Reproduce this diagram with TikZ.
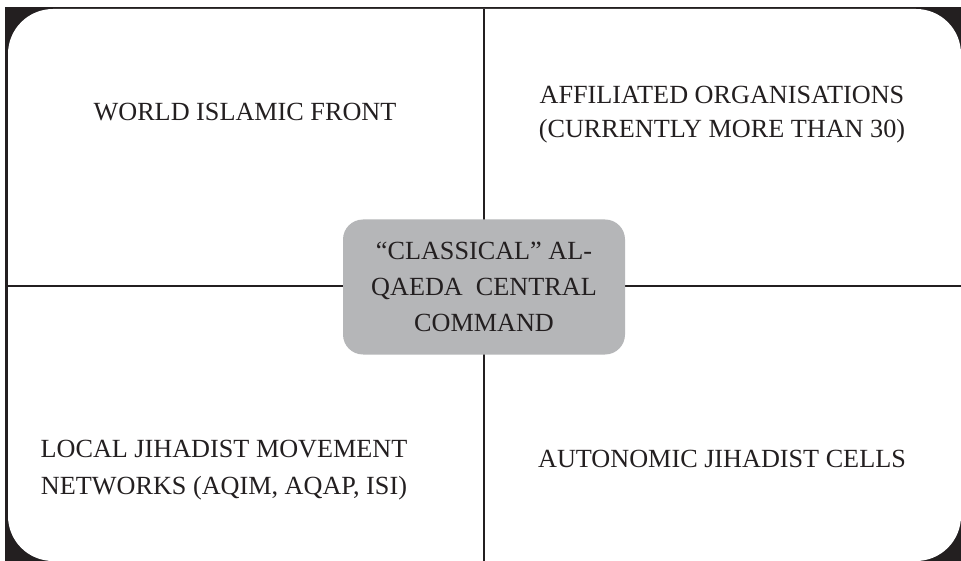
\documentclass[tikz,border=0pt]{standalone}
\usepackage{fontspec}
\setmainfont{Liberation Serif}
\definecolor{ink}{HTML}{231F20}
\definecolor{boxgray}{HTML}{B5B6B8}
\tikzset{
  label/.style={align=center, text=ink, inner sep=0pt, font=\fontsize{26.2}{34}\selectfont},
  widelabel/.style={label, font=\fontsize{26.2}{37}\selectfont},
  divider/.style={draw=ink, line width=2.3pt},
  central/.style={fill=boxgray, rounded corners=20pt, minimum width=282pt, minimum height=135pt, inner sep=0pt, align=center, text=ink, font=\fontsize{26.2}{36}\selectfont}
}
\begin{document}
\begin{tikzpicture}[x=1pt,y=-1pt]
\useasboundingbox (0,0) rectangle (961,561);
\fill[ink] (5,7) rectangle (961,561);
\fill[white, rounded corners=45pt] (8,9) rectangle (961,561);
\coordinate (top) at (484,9);
\coordinate (bottom) at (484,561);
\coordinate (left) at (8,286);
\coordinate (right) at (961,286);
\draw[divider] (top) -- (bottom);
\draw[divider] (left) -- (right);
\node[central] (core) at (484,287) {“CLASSICAL” AL-\\QAEDA\ \ CENTRAL\\COMMAND};
\node[label] (wif) at (245,112) {WORLD ISLAMIC FRONT};
\node[label] (aff) at (722,115) {AFFILIATED ORGANISATIONS\\(CURRENTLY MORE THAN 30)};
\node[widelabel] (loc) at (224,470) {LOCAL JIHADIST MOVEMENT\\NETWORKS (AQIM, AQAP, ISI)};
\node[label] (aut) at (722,459) {AUTONOMIC JIHADIST CELLS};
\end{tikzpicture}
\end{document}
